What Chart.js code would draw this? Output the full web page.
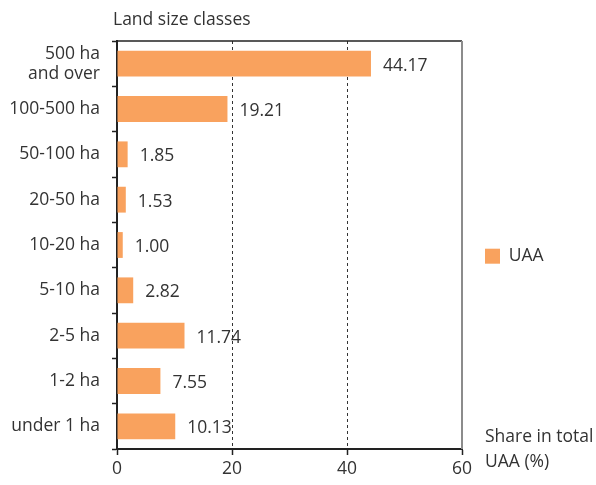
<!DOCTYPE html>
<html>
<head>
<meta charset="utf-8">
<script src="https://cdn.jsdelivr.net/npm/chart.js@4/dist/chart.umd.min.js"></script>
<style>
  html, body { margin: 0; padding: 0; background: #fff; }
  #wrap { width: 596px; height: 485px; position: relative; }
</style>
</head>
<body>
<div id="wrap"><canvas id="chart"></canvas></div>
<script>
const categories = [['500 ha', 'and over'], '100-500 ha', '50-100 ha', '20-50 ha', '10-20 ha', '5-10 ha', '2-5 ha', '1-2 ha', 'under 1 ha'];
const uaaShare = [44.17, 19.21, 1.85, 1.53, 1.00, 2.82, 11.74, 7.55, 10.13];
const xTicks = [0, 20, 40, 60];
const seriesName = 'UAA';
const yTitle = 'Land size classes';
const xTitle = ['Share in total', 'UAA (%)'];

const barColor = '#F9A25E';
const textColor = '#333333';
const axisColor = '#222222';
const fontFamily = '"Open Sans", "Noto Sans", sans-serif';
const fontSize = 17.5;

// legend gets a fixed width so the plot ends where the reference does
const legendWidth = {
  id: 'legendWidth',
  afterInit(chart) {
    const legend = chart.legend;
    if (!legend) return;
    const fit = legend.fit;
    legend.fit = function () {
      fit.call(this);
      this.width = 134;
    };
  },
};

const extras = {
  id: 'extras',
  afterDraw(chart) {
    const { ctx, chartArea } = chart;
    ctx.save();
    // frame: top black, right grey
    ctx.lineWidth = 1.5;
    ctx.strokeStyle = axisColor;
    ctx.beginPath();
    ctx.moveTo(chartArea.left, chartArea.top);
    ctx.lineTo(chartArea.right, chartArea.top);
    ctx.stroke();
    ctx.lineWidth = 2;
    ctx.strokeStyle = '#8c8c8c';
    ctx.beginPath();
    ctx.moveTo(chartArea.right, chartArea.top);
    ctx.lineTo(chartArea.right, chartArea.bottom);
    ctx.stroke();

    ctx.fillStyle = textColor;
    ctx.font = fontSize + 'px ' + fontFamily;
    ctx.textBaseline = 'middle';

    // value labels
    const meta = chart.getDatasetMeta(0);
    ctx.textAlign = 'left';
    meta.data.forEach((bar, i) => {
      ctx.fillText(uaaShare[i].toFixed(2), bar.x + 12, bar.y + 2);
    });

    // axis titles
    ctx.fillText(yTitle, chartArea.left - 4, 20);
    xTitle.forEach((line, i) => {
      ctx.fillText(line, chartArea.right + 23, chartArea.bottom - 12 + i * 25);
    });
    ctx.restore();
  },
};

new Chart(document.getElementById('chart'), {
  type: 'bar',
  data: {
    labels: categories,
    datasets: [{
      label: seriesName,
      data: uaaShare,
      backgroundColor: barColor,
      borderWidth: 0,
      categoryPercentage: 1,
      barPercentage: 0.57,
    }],
  },
  options: {
    indexAxis: 'y',
    responsive: true,
    maintainAspectRatio: false,
    animation: false,
    layout: { padding: { top: 41, bottom: 0, left: 0, right: 0 } },
    plugins: {
      tooltip: { enabled: false },
      legend: {
        position: 'right',
        align: 'center',
        fullSize: false,
        title: { display: true, text: ' ', padding: 4, font: { size: 12 } },
        labels: {
          boxWidth: 15,
          boxHeight: 15,
          padding: 23,
          color: textColor,
          font: { family: fontFamily, size: fontSize },
        },
      },
    },
    scales: {
      x: {
        min: 0,
        max: 60,
        afterBuildTicks: (axis) => { axis.ticks = xTicks.map((v) => ({ value: v })); },
        afterFit: (axis) => { axis.height = 36; },
        border: { display: true, color: axisColor, width: 2, dash: [3, 3] },
        grid: {
          color: (c) => (c.tick && (c.tick.value === 20 || c.tick.value === 40) ? '#333' : 'rgba(0,0,0,0)'),
          lineWidth: 1,
          tickColor: axisColor,
          tickLength: 6,
          tickWidth: 1.5,
          tickBorderDash: [],
        },
        ticks: { color: textColor, padding: 4, font: { family: fontFamily, size: fontSize } },
      },
      y: {
        afterFit: (axis) => { axis.width = 117; },
        border: { display: true, color: axisColor, width: 2 },
        grid: {
          drawOnChartArea: false,
          tickLength: 5,
          tickColor: axisColor,
          tickWidth: 1.5,
        },
        ticks: {
          color: textColor,
          padding: 12,
          font: { family: fontFamily, size: fontSize, lineHeight: 1.15 },
        },
      },
    },
  },
  plugins: [legendWidth, extras],
});
</script>
</body>
</html>
